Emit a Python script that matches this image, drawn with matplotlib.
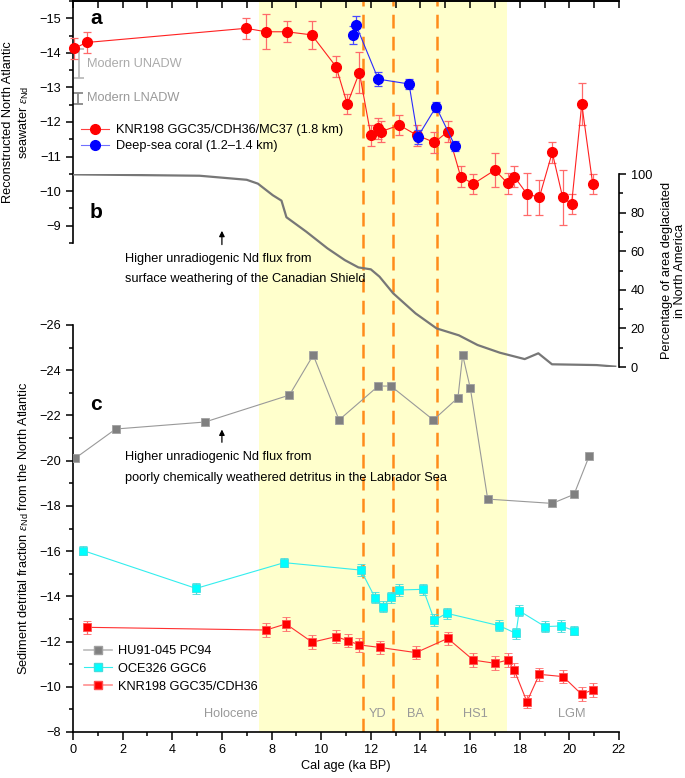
import numpy as np
import matplotlib
matplotlib.use("Agg")
import matplotlib.pyplot as plt
from matplotlib.lines import Line2D
from matplotlib.ticker import MultipleLocator

plt.rcParams['font.family'] = ['Liberation Sans', 'DejaVu Sans']
plt.rcParams['mathtext.fontset'] = 'custom'
plt.rcParams['mathtext.it'] = 'Liberation Serif:italic'
plt.rcParams['mathtext.rm'] = 'Liberation Sans'

# --- panel a: seawater eNd ---
knr_age = [0.05, 0.55, 6.97, 7.78, 8.61, 9.62, 10.6, 11.05, 11.54, 12.0, 12.3, 12.4, 13.15, 13.85,
           14.56, 15.1, 15.62, 16.13, 17.0, 17.51, 17.78, 18.29, 18.79, 19.31, 19.73, 20.09, 20.5, 20.94]
knr_end = [-14.13, -14.3, -14.71, -14.61, -14.61, -14.52, -13.6, -12.52, -13.43, -11.62, -11.82, -11.72,
           -11.91, -11.62, -11.41, -11.72, -10.42, -10.21, -10.61, -10.23, -10.42, -9.92, -9.82, -11.12,
           -9.82, -9.63, -12.52, -10.21]
knr_err = [0.3, 0.3, 0.3, 0.5, 0.3, 0.4, 0.3, 0.3, 0.6, 0.3, 0.3, 0.3, 0.3, 0.3,
           0.3, 0.3, 0.3, 0.3, 0.5, 0.3, 0.3, 0.6, 0.5, 0.3, 0.8, 0.3, 0.6, 0.3]

coral_age = [11.27, 11.4, 12.3, 13.54, 13.89, 14.63, 15.39]
coral_end = [-14.52, -14.81, -13.24, -13.1, -11.57, -12.44, -11.31]
coral_err = [0.25, 0.25, 0.2, 0.15, 0.2, 0.15, 0.15]

# modern water masses (centre, half range)
unadw = (-13.69, 0.41)
lnadw = (-12.68, 0.16)

# --- panel b: percentage of area deglaciated ---
ice_age = [0, 5.1, 7.0, 7.45, 8.05, 8.4, 8.6, 9.4, 10.25, 10.95, 11.5, 12.0, 12.35, 12.9, 13.8,
           14.65, 15.55, 16.3, 17.2, 18.2, 18.75, 19.3, 21.1, 21.85]
ice_pct = [99.8, 99.1, 97, 95, 89, 86.2, 77.6, 70.1, 61.5, 55.4, 51.6, 50.6, 46.8, 38.2, 27.8,
           20, 16.4, 11.4, 7.4, 4.1, 7.1, 1.4, 1.0, 0.2]

# --- panel c: detrital eNd ---
hu_age = [0.08, 1.72, 5.32, 8.72, 9.68, 10.72, 12.3, 12.81, 14.52, 15.51, 15.7, 16.01, 16.71, 19.31, 20.19, 20.8]
hu_end = [-20.1, -21.4, -21.71, -22.9, -24.67, -21.8, -23.3, -23.3, -21.8, -22.78, -24.67, -23.2,
          -18.3, -18.11, -18.51, -20.21]

oce_age = [0.42, 4.96, 8.51, 11.6, 12.17, 12.5, 12.81, 13.15, 14.11, 14.56, 15.06, 17.18, 17.85,
           17.98, 19.02, 19.66, 20.2]
oce_end = [-16.02, -14.35, -15.49, -15.16, -13.94, -13.54, -13.96, -14.28, -14.31, -12.95, -13.25,
           -12.7, -12.36, -13.36, -12.66, -12.69, -12.48]
oce_err = [0.2, 0.25, 0.2, 0.25, 0.25, 0.25, 0.25, 0.25, 0.25, 0.25, 0.25, 0.25, 0.25, 0.25, 0.25, 0.25, 0.2]

det_age = [0.55, 7.78, 8.58, 9.64, 10.6, 11.07, 11.54, 12.37, 13.82, 15.1, 16.13, 17.0, 17.51,
           17.78, 18.29, 18.79, 19.75, 20.49, 20.94]
det_end = [-12.63, -12.51, -12.78, -11.97, -12.22, -12.04, -11.85, -11.74, -11.51, -12.14, -11.18,
           -11.04, -11.18, -10.74, -9.34, -10.55, -10.45, -9.67, -9.86]
det_err = [0.3] * len(det_age)

events = [11.7, 12.9, 14.65]
period_names = ['Holocene', 'YD', 'BA', 'HS1', 'LGM']
period_pos = [7.45, 12.27, 13.8, 16.2, 20.1]

W, H = 685, 778
fig = plt.figure(figsize=(W / 100, H / 100), dpi=100)


def rect(top, bot):
    return [73 / W, 1 - bot / H, (619 - 73) / W, (bot - top) / H]


def fpx(x, y):
    return x / W, 1 - y / H


fs = 9.2
orange = '#ff8c1a'

frame = fig.add_axes(rect(1, 732))
frame.set_xlim(0, 22)
frame.set_ylim(0, 1)
frame.set_yticks([])
frame.spines['left'].set_visible(False)
frame.spines['right'].set_visible(False)
for s in ['top', 'bottom']:
    frame.spines[s].set_linewidth(1.2)
frame.xaxis.set_major_locator(MultipleLocator(2))
frame.xaxis.set_minor_locator(MultipleLocator(1))
frame.tick_params(axis='x', which='major', direction='out', length=5.5, width=1.1, labelsize=fs, pad=3)
frame.tick_params(axis='x', which='minor', direction='out', length=3, width=1.1)
frame.set_xlabel('Cal age (ka BP)', fontsize=fs, labelpad=3)
top = frame.secondary_xaxis('top')
top.xaxis.set_major_locator(MultipleLocator(1))
top.tick_params(direction='in', length=5, width=1.1, labeltop=False)
top.spines['top'].set_linewidth(1.2)

frame.axvspan(7.5, 17.5, color='#ffffcc', zorder=0, lw=0)
for e in events:
    frame.axvline(e, color=orange, ls=(0, (5.5, 3.3)), lw=1.8, zorder=1)
for name, p in zip(period_names, period_pos):
    frame.text(p, 0.016, name, ha='right' if name == 'Holocene' else 'center', va='bottom',
               fontsize=fs, color='#999999')


def overlay(r):
    ax = fig.add_axes(r, sharex=frame)
    ax.patch.set_visible(False)
    for s in ['top', 'bottom', 'left', 'right']:
        ax.spines[s].set_visible(False)
    ax.tick_params(axis='x', which='both', bottom=False, labelbottom=False)
    return ax


# panel a
ax_a = overlay(rect(1, 243))
ax_a.set_ylim(-8.5, -15.5)
ax_a.spines['left'].set_visible(True)
ax_a.spines['left'].set_linewidth(1.2)
ax_a.yaxis.set_major_locator(MultipleLocator(1))
ax_a.yaxis.set_minor_locator(MultipleLocator(0.5))
ax_a.tick_params(axis='y', which='major', length=5, width=1.1, labelsize=fs)
ax_a.tick_params(axis='y', which='minor', length=3, width=1.1)
ax_a.set_yticks(range(-15, -8))
ax_a.set_ylabel('Reconstructed North Atlantic\nseawater $\\varepsilon_{\\rm Nd}$', fontsize=fs, labelpad=6)

ax_a.errorbar(knr_age, knr_end, yerr=knr_err, color='#ff2020', ecolor='#ff6a6a', lw=0.8, elinewidth=0.9,
              capsize=3, capthick=0.9, marker='o', ms=7, mfc='#ff0000', mec='#ff0000', clip_on=False, zorder=3)
ax_a.errorbar(coral_age, coral_end, yerr=coral_err, color='#2a2aff', ecolor='#4a4aff', lw=0.8, elinewidth=0.9,
              capsize=3, capthick=0.9, marker='o', ms=7, mfc='#0000ff', mec='#0000ff', zorder=4)
ax_a.errorbar([0.24], [unadw[0]], yerr=[unadw[1]], fmt='none', ecolor='#bbbbbb', elinewidth=1.3, capsize=3.5, capthick=1.3)
ax_a.errorbar([0.19], [lnadw[0]], yerr=[lnadw[1]], fmt='none', ecolor='#888888', elinewidth=1.3, capsize=3.5, capthick=1.3)
ax_a.text(0.55, unadw[0], 'Modern UNADW', fontsize=fs, color='#aaaaaa', va='center')
ax_a.text(0.55, lnadw[0], 'Modern LNADW', fontsize=fs, color='#999999', va='center')

h_a = [Line2D([], [], color='#ff4040', lw=0.8, marker='o', ms=7, mfc='#ff0000', mec='#ff0000'),
       Line2D([], [], color='#7070ff', lw=0.8, marker='o', ms=7, mfc='#0000ff', mec='#0000ff')]
ax_a.legend(h_a, ['KNR198 GGC35/CDH36/MC37 (1.8 km)', 'Deep-sea coral (1.2\u20131.4 km)'],
            loc='upper left', bbox_to_anchor=fpx(81, 124), bbox_transform=fig.transFigure,
            frameon=False, fontsize=fs, handlelength=2.2, handletextpad=0.55, labelspacing=0.35,
            borderpad=0, borderaxespad=0)

# panel b
ax_b = overlay(rect(174, 367))
ax_b.set_ylim(0, 100)
ax_b.spines['right'].set_visible(True)
ax_b.spines['right'].set_linewidth(1.2)
ax_b.yaxis.tick_right()
ax_b.yaxis.set_label_position('right')
ax_b.yaxis.set_major_locator(MultipleLocator(20))
ax_b.yaxis.set_minor_locator(MultipleLocator(10))
ax_b.tick_params(axis='y', which='major', length=5, width=1.1, labelsize=fs)
ax_b.tick_params(axis='y', which='minor', length=3, width=1.1)
ax_b.set_ylabel('Percentage of area deglaciated\nin North America', fontsize=fs, labelpad=6)
ax_b.plot(ice_age, ice_pct, color='#777777', lw=1.6, zorder=2)
ax_b.annotate('', xy=(6, 72), xytext=(6, 62), arrowprops=dict(arrowstyle='-|>', color='black', lw=0.9,
                                                               mutation_scale=8))

# panel c
ax_c = overlay(rect(325, 732))
ax_c.set_ylim(-8, -26)
ax_c.spines['left'].set_visible(True)
ax_c.spines['left'].set_linewidth(1.2)
ax_c.yaxis.set_major_locator(MultipleLocator(2))
ax_c.yaxis.set_minor_locator(MultipleLocator(1))
ax_c.tick_params(axis='y', which='major', length=5, width=1.1, labelsize=fs)
ax_c.tick_params(axis='y', which='minor', length=3, width=1.1)
ax_c.set_ylabel('Sediment detrital fraction $\\varepsilon_{\\rm Nd}$ from the North Atlantic', fontsize=fs, labelpad=6)

ax_c.plot(hu_age, hu_end, color='#999999', lw=0.8, marker='s', ms=5.5, mfc='#808080', mec='#a0a0a0', mew=0.6, zorder=3)
ax_c.errorbar(oce_age, oce_end, yerr=oce_err, color='#33eeee', ecolor='#44dddd', lw=0.8, elinewidth=0.9,
              capsize=3, capthick=0.9, marker='s', ms=5.5, mfc='#00ffff', mec='#44dddd', mew=0.6, zorder=3)
ax_c.errorbar(det_age, det_end, yerr=det_err, color='#ff3030', ecolor='#ff6a6a', lw=0.8, elinewidth=0.9,
              capsize=3, capthick=0.9, marker='s', ms=5.5, mfc='#ff0000', mec='#ff5050', mew=0.6, zorder=3)
ax_c.annotate('', xy=(6, -21.5), xytext=(6, -20.69), arrowprops=dict(arrowstyle='-|>', color='black', lw=0.9,
                                                                      mutation_scale=8))

h_c = [Line2D([], [], color='#bbbbbb', lw=1.2, marker='s', ms=5.5, mfc='#808080', mec='#a0a0a0'),
       Line2D([], [], color='#33eeee', lw=0.8, marker='s', ms=5.5, mfc='#00ffff', mec='#44dddd'),
       Line2D([], [], color='#ff9090', lw=1.2, marker='s', ms=5.5, mfc='#ff0000', mec='#ff5050')]
ax_c.legend(h_c, ['HU91-045 PC94', 'OCE326 GGC6', 'KNR198 GGC35/CDH36'],
            loc='upper left', bbox_to_anchor=fpx(84, 645), bbox_transform=fig.transFigure,
            frameon=False, fontsize=fs, handlelength=2.2, handletextpad=0.45, labelspacing=0.45,
            borderpad=0, borderaxespad=0)

# annotations and panel letters
fs_n = 9.2
fig.text(*fpx(125, 259), 'Higher unradiogenic Nd flux from', fontsize=fs_n, va='center')
fig.text(*fpx(125, 279), 'surface weathering of the Canadian Shield', fontsize=fs_n, va='center')
fig.text(*fpx(125, 457), 'Higher unradiogenic Nd flux from', fontsize=fs_n, va='center')
fig.text(*fpx(125, 478), 'poorly chemically weathered detritus in the Labrador Sea', fontsize=fs_n, va='center')
for letter, (lx, ly) in zip('abc', [(90, 18), (90, 212), (90, 405)]):
    fig.text(*fpx(lx, ly), letter, fontsize=15, fontweight='bold', va='center')

fig.savefig('out.png', dpi=100)
